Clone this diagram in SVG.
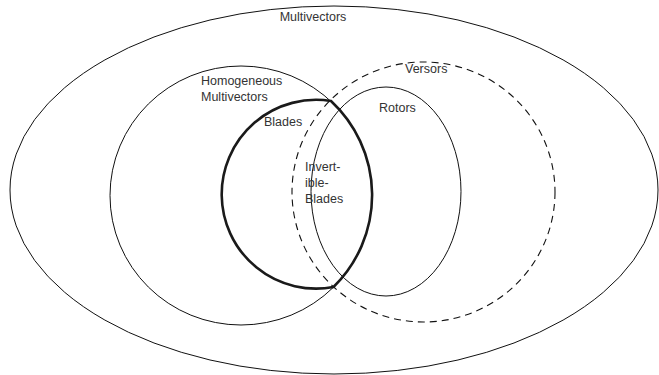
<svg xmlns="http://www.w3.org/2000/svg" width="659" height="375" viewBox="0 0 659 375">
<style>
.thin{fill:none;stroke:#111;stroke-width:1}
.dash{fill:none;stroke:#111;stroke-width:1.1;stroke-dasharray:7 5}
.bold{fill:none;stroke:#1a1a1a;stroke-width:2.6;stroke-linejoin:miter}
text{font-family:"Liberation Sans",Arial,sans-serif;font-size:12.5px;fill:#333}
</style>
<rect width="659" height="375" fill="#fff"/>
<g id="multivectors">
<ellipse class="thin" cx="334" cy="190" rx="324" ry="184"/>
<text x="313" y="20.5" text-anchor="middle">Multivectors</text>
</g>
<g id="homogeneous">
<ellipse class="thin" cx="241" cy="195.5" rx="131" ry="129.5"/>
<text x="201" y="85">Homogeneous</text>
<text x="201" y="101">Multivectors</text>
</g>
<g id="versors">
<ellipse class="dash" cx="423.5" cy="192" rx="131.5" ry="130"/>
<text x="405" y="73">Versors</text>
</g>
<g id="rotors">
<ellipse class="thin" cx="386" cy="191.5" rx="75" ry="104.5"/>
<text x="379" y="112">Rotors</text>
</g>
<g id="blades">
<path class="bold" d="M 331 101 A 94.4 94.4 0 1 0 333.5 287 A 131 129.5 0 0 0 331 101 Z"/>
<text x="264" y="126">Blades</text>
</g>
<g id="invertible-blades">
<text x="305" y="171">Invert-</text>
<text x="305" y="187">ible-</text>
<text x="305" y="203">Blades</text>
</g>
<g id="connectors"></g>
</svg>
